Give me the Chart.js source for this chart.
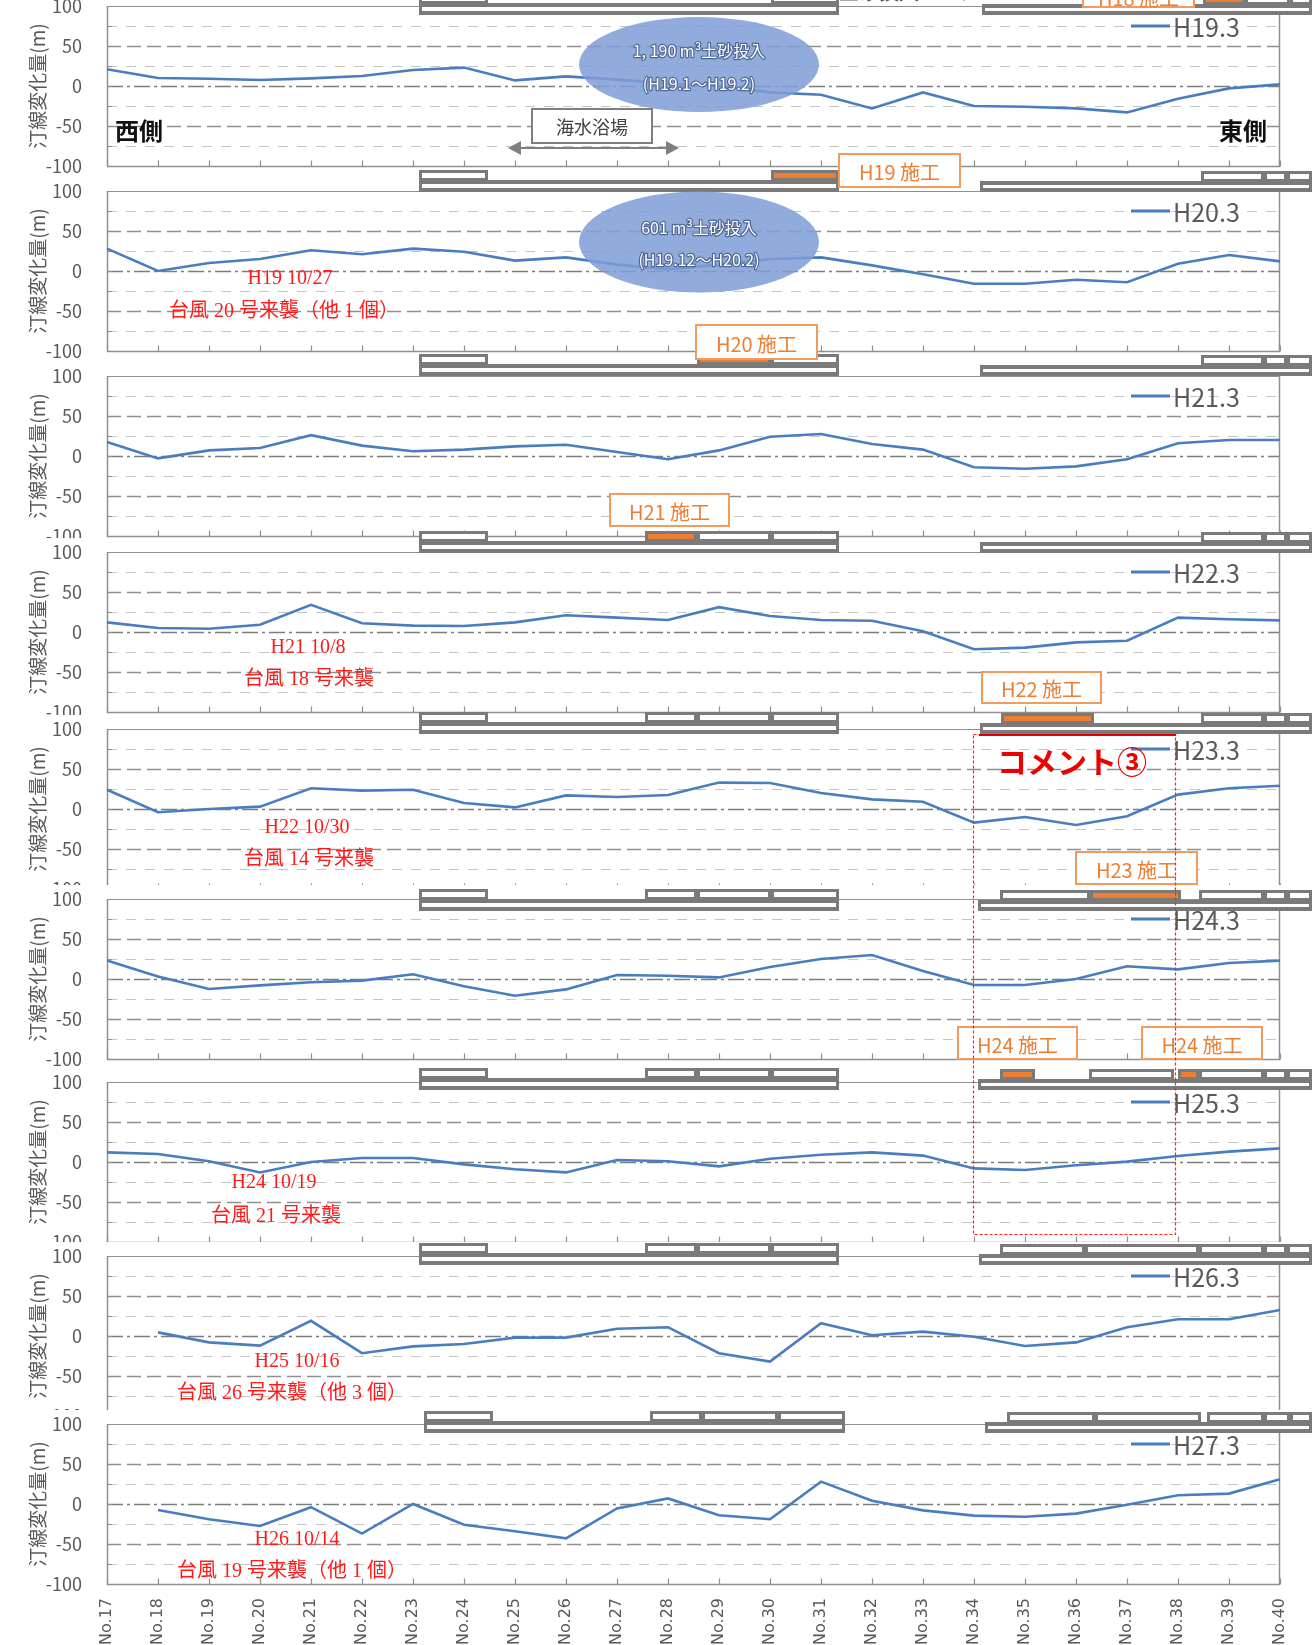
<!DOCTYPE html>
<html lang="ja">
<head>
<meta charset="utf-8">
<title>汀線変化量 No.17〜No.40</title>
<script src="https://cdn.jsdelivr.net/npm/chart.js@4.4.1/dist/chart.umd.min.js"></script>
<style>
  html, body { margin: 0; padding: 0; background: #fff; }
  #page { position: relative; width: 1312px; height: 1645px; overflow: hidden; background: #fff; }
  #page canvas { position: absolute; left: 0; background: #fff; }
  #deco { position: absolute; left: 0; top: 0; z-index: 20; pointer-events: none; }
</style>
</head>
<body>
<div id="page"></div>
<script>
// ---- survey lines (west → east) ----
const stations = ['No.17','No.18','No.19','No.20','No.21','No.22','No.23','No.24','No.25','No.26','No.27','No.28',
                  'No.29','No.30','No.31','No.32','No.33','No.34','No.35','No.36','No.37','No.38','No.39','No.40'];

// ---- shoreline change (m) per survey ----
const h19_3 = [21, 10, 9, 7.5, 9.5, 12.5, 20, 23, 7, 12, 8, 3, 0, -8, -11, -28, -8, -25, -26, -28, -33, -16, -3, 2];
const h20_3 = [28, 0, 10, 15, 26, 21, 28, 24, 13, 17, 8, 2, 8, 15, 17, 7, -4, -16, -16, -11, -14, 9, 20, 12];
const h21_3 = [17.5, -3, 7, 10, 26, 13, 6, 8, 12, 14, 5, -4, 7, 24, 27.5, 15, 8, -14, -16, -13, -4, 16, 20, 20];
const h22_3 = [12, 5, 4, 9, 34, 11, 8, 7.5, 12, 21, 18, 15, 31, 20, 15, 14, 1, -21.5, -19.5, -13, -11, 18, 16, 14.5];
const h23_3 = [24, -4, 0, 3, 26, 23, 24, 7.5, 2, 17, 15, 17.5, 33, 32.5, 20, 12, 9, -17, -10, -20, -9, 18, 26, 29];
const h24_3 = [23, 3, -12.5, -8, -4, -2, 6, -9, -21, -13, 5, 4, 2, 15, 25, 30, 10, -7.5, -7.5, 0, 16, 12, 20, 23];
const h25_3 = [12, 10, 1, -13, 0, 5, 5, -3, -9, -13, 2.5, 1, -5.5, 4, 9, 12, 8, -8, -10, -4, 0.5, 7.5, 13, 17];
const h26_3 = [null, 4.5, -8, -12, 19, -21.5, -13, -10, -2, -2, 9, 11, -21.5, -32, 16, 1, 5.5, -1, -12.5, -8, 11, 21, 21, 32.5];
const h27_3 = [null, -7.5, -19, -27.5, -4, -37, 0, -26, -34, -43, -5.5, 7, -14, -19, 28, 4, -8, -14.5, -16, -12, -1, 11, 13, 31];

const surveyLabels = ['H19.3','H20.3','H21.3','H22.3','H23.3','H24.3','H25.3','H26.3','H27.3'];
const surveySeries = [h19_3, h20_3, h21_3, h22_3, h23_3, h24_3, h25_3, h26_3, h27_3];

// y-axis
const yMin = -100, yMax = 100, yStep = 50, gridStep = 25;

// ---- page layout (pixel position of each panel's +100 line) ----
const panelTop = [6, 191, 376, 552, 729, 899, 1082, 1256, 1424];
const PAD = 14, PLOT_H = 160, AXIS_W = 107, RIGHT_PAD = 32, LABEL_H = 61, PAGE_H = 1645;

const LINE_BLUE = '#4a7dc0';
const AXIS_GREY = '#595959';

function gridStyle(v) {
  if (v === yMax) return { color: '#8f8f8f', dash: [], width: 1.2 };
  if (v === 0) return { color: '#7c7c7c', dash: [16, 4, 3, 4], width: 1.3 };
  if (v % 50 === 0) return { color: '#8e8e8e', dash: [14, 6], width: 1.3 };
  return { color: '#c4c4c4', dash: [10, 9], width: 1.2 };
}

// gridlines, frame and inward category ticks
const panelFrame = {
  id: 'panelFrame',
  beforeDatasetsDraw(chart) {
    const { ctx, chartArea: a, scales: { x, y } } = chart;
    ctx.save();
    for (let v = yMin + gridStep; v <= yMax; v += gridStep) {
      const py = Math.round(y.getPixelForValue(v)) + 0.5;
      const s = gridStyle(v);
      ctx.strokeStyle = s.color; ctx.lineWidth = s.width; ctx.setLineDash(s.dash);
      ctx.beginPath(); ctx.moveTo(a.left, py); ctx.lineTo(a.right, py); ctx.stroke();
    }
    ctx.setLineDash([]);
    ctx.strokeStyle = '#8f8f8f'; ctx.lineWidth = 1.5;
    const yb = Math.round(y.getPixelForValue(yMin)) + 0.5;
    ctx.beginPath();
    ctx.moveTo(a.left + 0.5, a.top); ctx.lineTo(a.left + 0.5, yb);
    ctx.moveTo(a.right - 0.5, a.top); ctx.lineTo(a.right - 0.5, yb);
    ctx.moveTo(a.left, yb); ctx.lineTo(a.right, yb);
    ctx.stroke();
    ctx.lineWidth = 1.2;
    ctx.beginPath();
    x.ticks.forEach((t, i) => {
      const px = Math.round(x.getPixelForTick(i)) + 0.5;
      ctx.moveTo(px, yb); ctx.lineTo(px, yb - 6);
    });
    for (let v = yMin + gridStep; v < yMax; v += gridStep) {
      const py = Math.round(y.getPixelForValue(v)) + 0.5;
      ctx.moveTo(a.left, py); ctx.lineTo(a.left + 5, py);
    }
    ctx.stroke();
    ctx.restore();
  }
};

// series key in the upper right of each panel
const seriesKey = {
  id: 'seriesKey',
  afterDatasetsDraw(chart) {
    const { ctx, chartArea: a } = chart;
    const ds = chart.data.datasets[0];
    const ky = a.top + 20;
    ctx.save();
    ctx.strokeStyle = ds.borderColor; ctx.lineWidth = 3;
    ctx.beginPath(); ctx.moveTo(a.right - 149, ky); ctx.lineTo(a.right - 110, ky); ctx.stroke();
    ctx.fillStyle = AXIS_GREY;
    ctx.font = '25px "Noto Sans CJK JP", "Noto Sans", sans-serif';
    ctx.textBaseline = 'middle'; ctx.textAlign = 'left';
    ctx.fillText(ds.label, a.right - 107, ky + 1);
    ctx.restore();
  }
};

const page = document.getElementById('page');

surveySeries.forEach((values, i) => {
  const last = i === surveySeries.length - 1;
  const canvas = document.createElement('canvas');
  const top = panelTop[i] - PAD;
  const h = last ? PAGE_H - top : PAD + PLOT_H + PAD;
  canvas.width = 1312; canvas.height = h;
  canvas.style.top = top + 'px';
  canvas.style.zIndex = i + 1;
  page.appendChild(canvas);

  new Chart(canvas, {
    type: 'line',
    data: {
      labels: stations,
      datasets: [{
        label: surveyLabels[i],
        data: values,
        borderColor: LINE_BLUE,
        borderWidth: 2.6,
        pointRadius: 0,
        tension: 0,
        fill: false,
        spanGaps: false
      }]
    },
    options: {
      responsive: false,
      animation: false,
      devicePixelRatio: 1,
      layout: { autoPadding: false, padding: { top: PAD, right: RIGHT_PAD, bottom: last ? 0 : PAD, left: 0 } },
      plugins: { legend: { display: false }, tooltip: { enabled: false } },
      scales: {
        x: {
          type: 'category',
          offset: false,
          grid: { display: false, drawTicks: false },
          border: { display: false },
          ticks: {
            display: last, autoSkip: false, maxRotation: 90, minRotation: 90, padding: 14,
            color: AXIS_GREY, font: { family: 'DejaVu Sans', size: 16 }
          },
          afterFit: s => { s.height = last ? LABEL_H : 0; s.paddingLeft = 0; s.paddingRight = 0; }
        },
        y: {
          min: yMin, max: yMax,
          grid: { display: false, drawTicks: false },
          border: { display: false },
          ticks: {
            stepSize: yStep, padding: 25, color: AXIS_GREY,
            font: { family: 'Noto Sans CJK JP', size: 18 }
          },
          title: {
            display: true, text: '汀線変化量(m)', color: AXIS_GREY,
            font: { family: 'Noto Sans CJK JP', size: 19 },
            padding: { top: 26, bottom: 0 }
          },
          afterFit: s => { s.width = AXIS_W; s.paddingTop = 0; s.paddingBottom = 0; }
        }
      }
    },
    plugins: [panelFrame, seriesKey]
  });
});

// ---- plan-view sketches, labels and notes drawn over the panels ----
const NS = 'http://www.w3.org/2000/svg';
const svg = document.createElementNS(NS, 'svg');
svg.setAttribute('id', 'deco');
svg.setAttribute('width', 1312);
svg.setAttribute('height', 1645);
page.appendChild(svg);

function el(tag, attrs, text) {
  const e = document.createElementNS(NS, tag);
  for (const k in attrs) e.setAttribute(k, attrs[k]);
  if (text != null) e.textContent = text;
  svg.appendChild(e);
  return e;
}

const W = '#ffffff', O = '#ed7d31';
function block(x1, x2, top, h, fill, inset) {
  el('rect', { x: x1, y: top, width: x2 - x1, height: h, fill: '#7a7a7a' });
  el('rect', { x: x1 + 3, y: top + inset, width: x2 - x1 - 6, height: h - 2 * inset, fill: fill || W });
}

// breakwater plan strips between panels
const strips = [
  { b: 15,   L: [419, 839], Lr: [[419, 488], [771, 839]], R: [982, 1312], Rr: [[1203, 1245, O], [1245, 1290], [1290, 1312]] },
  { b: 192,  L: [419, 839], Lr: [[419, 488], [771, 839, O]], R: [980, 1312], Rr: [[1201, 1264], [1264, 1287], [1287, 1312]] },
  { b: 376,  L: [419, 839], Lr: [[419, 488], [697, 771, O], [771, 839]], R: [980, 1312], Rr: [[1201, 1264], [1264, 1287], [1287, 1312]] },
  { b: 553,  L: [419, 839], Lr: [[419, 488], [645, 697, O], [697, 771], [771, 839]], R: [980, 1312], Rr: [[1201, 1264], [1264, 1287], [1287, 1312]] },
  { b: 734,  L: [419, 839], Lr: [[419, 488], [645, 697], [697, 771], [771, 839]], R: [980, 1312], Rr: [[1001, 1094, O], [1201, 1264], [1264, 1287], [1287, 1312]] },
  { b: 911,  L: [419, 839], Lr: [[419, 488], [645, 697], [697, 771], [771, 839]], R: [978, 1312], Rr: [[1000, 1090], [1090, 1181, O], [1199, 1264], [1264, 1287], [1287, 1312]] },
  { b: 1090, L: [419, 839], Lr: [[419, 488], [645, 697], [697, 771], [771, 839]], R: [978, 1312], Rr: [[1000, 1035, O], [1089, 1174], [1178, 1199, O], [1199, 1264], [1264, 1287], [1287, 1312]] },
  { b: 1265, L: [419, 839], Lr: [[419, 488], [645, 697], [697, 771], [771, 839]], R: [979, 1312], Rr: [[1000, 1085], [1085, 1199], [1199, 1264], [1264, 1287], [1287, 1312]] },
  { b: 1433, L: [424, 845], Lr: [[424, 493], [650, 702], [702, 778], [778, 845]], R: [985, 1312], Rr: [[1007, 1095], [1095, 1201], [1207, 1264], [1264, 1290], [1290, 1312]] }
];
strips.forEach(g => {
  g.Lr.forEach(s => block(s[0], s[1], g.b - 22, 11, s[2], 3));
  g.Rr.forEach(s => block(s[0], s[1], g.b - 21, 11, s[2], 3));
  block(g.L[0], g.L[1], g.b - 12, 12, W, 4);
  block(g.R[0], g.R[1], g.b - 11, 11, W, 4);
});

// sand placement areas
el('text', { x: 839, y: 0, 'font-size': 20, fill: '#595959', 'font-family': 'Noto Sans CJK JP' }, '土砂投入エリア');
[[699, 64.5, 47.5, '1, 190 m³土砂投入', '(H19.1～H19.2)', 50, 83],
 [699, 242, 50.5, '601 m³土砂投入', '(H19.12～H20.2)', 227, 259]].forEach(e => {
  el('ellipse', { cx: e[0], cy: e[1], rx: 120, ry: e[2], fill: '#7f9dd6', 'fill-opacity': 0.86 });
  [[e[3], e[5]], [e[4], e[6]]].forEach(t => {
    el('text', { x: e[0], y: t[1], 'text-anchor': 'middle', 'dominant-baseline': 'central', 'font-size': 16,
                 'font-family': 'Noto Sans CJK JP', fill: '#ffffff', stroke: '#4f6593', 'stroke-width': 2.4,
                 'paint-order': 'stroke', 'stroke-linejoin': 'round' }, t[0]);
  });
});

// bathing beach
el('rect', { x: 532, y: 109, width: 120, height: 34, fill: '#fff', stroke: '#7f7f7f', 'stroke-width': 2 });
el('text', { x: 592, y: 126, 'text-anchor': 'middle', 'dominant-baseline': 'central', 'font-size': 18,
             'font-family': 'Noto Sans CJK JP', fill: '#404040' }, '海水浴場');
el('line', { x1: 518, y1: 148, x2: 669, y2: 148, stroke: '#7f7f7f', 'stroke-width': 2 });
el('polygon', { points: '508,148 521,141 521,155', fill: '#7f7f7f' });
el('polygon', { points: '679,148 666,141 666,155', fill: '#7f7f7f' });

// west / east
[['西側', 139], ['東側', 1243]].forEach(t => {
  el('text', { x: t[1], y: 129, 'text-anchor': 'middle', 'dominant-baseline': 'central', 'font-size': 24,
               'font-weight': 'bold', 'font-family': 'Noto Sans CJK JP', fill: '#111' }, t[0]);
});

// construction works
[[1083, -14, 111, 21, 'H18 施工'], [839, 154, 121, 33, 'H19 施工'], [696, 325, 121, 34, 'H20 施工'],
 [610, 494, 119, 32, 'H21 施工'], [982, 672, 119, 31, 'H22 施工'], [1076, 852, 121, 32, 'H23 施工'],
 [958, 1027, 119, 32, 'H24 施工'], [1142, 1027, 120, 32, 'H24 施工']].forEach(b => {
  el('rect', { x: b[0], y: b[1], width: b[2], height: b[3], fill: '#fff', stroke: '#f29b5c', 'stroke-width': 2 });
  el('text', { x: b[0] + b[2] / 2, y: b[1] + b[3] / 2 + 1, 'text-anchor': 'middle', 'dominant-baseline': 'central',
               'font-size': 20, 'font-family': 'Noto Sans CJK JP', fill: '#ed7d31' }, b[4]);
});

// typhoon notes
[['H19 10/27', 290, 277], ['台風 20 号来襲（他 1 個）', 284, 310],
 ['H21 10/8', 308, 646], ['台風 18 号来襲', 309, 678],
 ['H22 10/30', 307, 826], ['台風 14 号来襲', 309, 858],
 ['H24 10/19', 274, 1181], ['台風 21 号来襲', 276, 1215],
 ['H25 10/16', 297, 1360], ['台風 26 号来襲（他 3 個）', 292, 1392],
 ['H26 10/14', 297, 1538], ['台風 19 号来襲（他 1 個）', 292, 1570]].forEach(t => {
  el('text', { x: t[1], y: t[2], 'text-anchor': 'middle', 'dominant-baseline': 'central', 'font-size': 20,
               'font-family': "'Liberation Serif', 'Noto Sans CJK JP', serif", fill: '#ff1a1a' }, t[0]);
});

// comment frame
el('rect', { x: 973.5, y: 734.5, width: 202, height: 500, fill: 'none', stroke: '#ff2020', 'stroke-width': 1.2, 'stroke-dasharray': '3,2' });
el('line', { x1: 979, y1: 735, x2: 1176, y2: 735, stroke: '#e00000', 'stroke-width': 2 });
el('text', { x: 997, y: 760, 'dominant-baseline': 'central', 'font-size': 30, 'font-weight': 'bold',
             'font-family': 'Noto Sans CJK JP', fill: '#ee0000' }, 'コメント③');
</script>
</body>
</html>
